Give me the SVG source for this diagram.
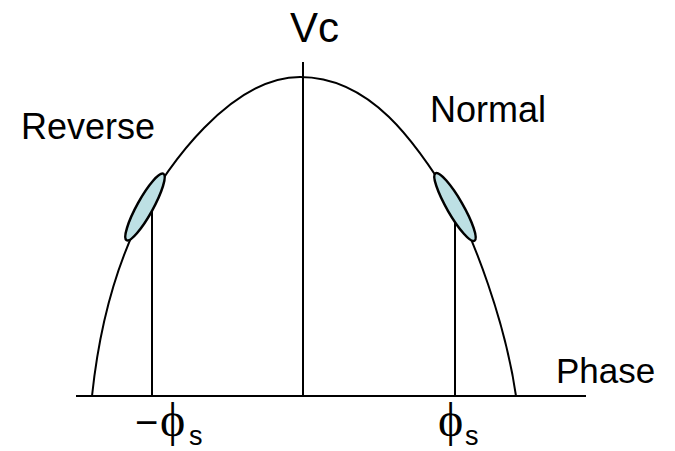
<svg xmlns="http://www.w3.org/2000/svg" width="675" height="451" viewBox="0 0 675 451">
<style>
.ln{stroke:#000;stroke-width:2;fill:none}
.el{fill:#bde0e4;stroke:#000;stroke-width:2.5}
.t{font-family:"Liberation Sans",Arial,sans-serif;fill:#000}
.p{font-family:"Liberation Serif","Times New Roman",serif;fill:#000}
</style>
<rect width="675" height="451" fill="#fff"/>
<g id="connectors">
<path class="ln" d="M76,396 H586"/>
<path class="ln" d="M303,62 V396"/>
<path class="ln" d="M152,198 V396"/>
<path class="ln" d="M455,210 V396"/>
<path class="ln" d="M92,396 C100,320 120,255 146,207 C166,169 230,77 300,77 C370,77 415,140 455,206 C473,238 505,320 516,396"/>
</g>
<g id="ellipse-left"><ellipse class="el" cx="145" cy="207" rx="38" ry="8" transform="rotate(-61 145 207)"/></g>
<g id="ellipse-right"><ellipse class="el" cx="455" cy="207" rx="39" ry="8" transform="rotate(60 455 207)"/></g>
<g id="label-vc"><text class="t" x="290" y="42" font-size="42">Vc</text></g>
<g id="label-reverse"><text class="t" x="21" y="139" font-size="36">Reverse</text></g>
<g id="label-normal"><text class="t" x="430" y="122" font-size="36">Normal</text></g>
<g id="label-phase"><text class="t" x="556" y="383" font-size="35">Phase</text></g>
<g id="label-neg-phis"><text y="436"><tspan class="t" x="135" font-size="40">−</tspan><tspan class="p" x="160" font-size="48">ϕ</tspan><tspan class="t" x="189" y="445" font-size="27">s</tspan></text></g>
<g id="label-phis"><text y="436"><tspan class="p" x="438" font-size="48">ϕ</tspan><tspan class="t" x="465" y="445" font-size="27">s</tspan></text></g>
</svg>
